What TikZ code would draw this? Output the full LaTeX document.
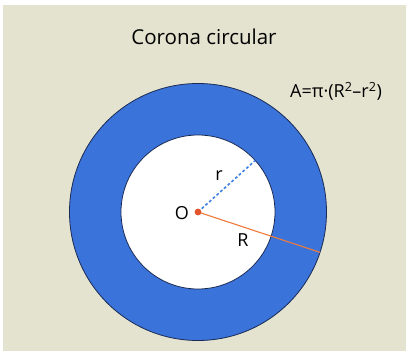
\documentclass[tikz,border=0pt]{standalone}
\usepackage{fontspec}
\setmainfont{Open Sans}
\usepackage{tikz}
\usetikzlibrary{positioning, calc}
\definecolor{paper}{HTML}{E3E3D0}
\definecolor{ring}{HTML}{3A74DA}
\definecolor{ringedge}{HTML}{1A2A55}
\definecolor{rdash}{HTML}{3F82E2}
\definecolor{Rline}{HTML}{EE7A3C}
\definecolor{centre}{HTML}{E4532B}

\begin{document}
\begin{tikzpicture}[
    x=1pt, y=-1pt,
    label/.style={font=\fontsize{18}{20}\selectfont, text=black, inner sep=1pt},
    radius line/.style={line width=1.6pt},
]
\useasboundingbox (0,0) rectangle (408,353);
\fill[white] (0,0) rectangle (408,353);
\fill[paper] (3,5) rectangle (406,351);

% title and formula
\node[font=\fontsize{20.5}{24}\selectfont] (title) at (204,37) {Corona circular};
\node[label, font=\fontsize{18}{20}\selectfont] (area) at (336,91) {A=π·(R\textsuperscript{2}–r\textsuperscript{2})};

% the ring
\coordinate (o) at (198,212);
\fill[ring, draw=ringedge, line width=0.8pt] (o) circle[radius=128.5];
\fill[white, draw=ringedge, line width=0.8pt] (o) circle[radius=77];

% radii
\coordinate (rend) at ($(o)+(-42:77)$);
\coordinate (Rend) at ($(o)+(18.3:128.5)$);
\draw[radius line, rdash, dash pattern=on 2.8pt off 2.2pt] (o) -- (rend);
\draw[line width=1.1pt, Rline] (o) -- (Rend);
\fill[centre] (o) circle[radius=3.4];

% labels
\node[label] (Olab) at (182,213) {O};
\node[label] (rlab) at (219,176) {r};
\node[label] (Rlab) at (243,240) {R};

\end{tikzpicture}
\end{document}
